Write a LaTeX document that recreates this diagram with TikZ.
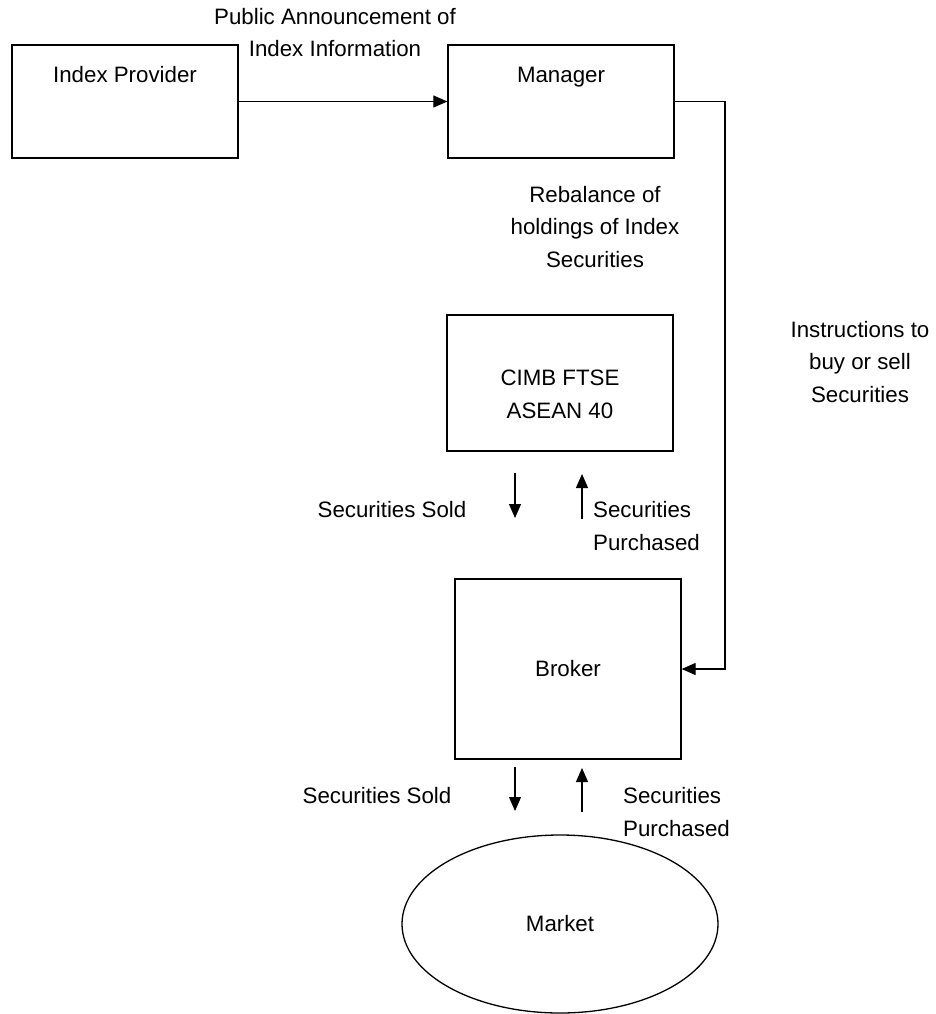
\documentclass[tikz,border=0pt]{standalone}
\usepackage{fontspec}
\setmainfont{Liberation Sans}
\usetikzlibrary{arrows.meta,shapes.geometric}
\begin{document}
\begin{tikzpicture}[x=1pt,y=-1pt,
  every node/.style={font=\fontsize{22.3pt}{32.5pt}\selectfont, inner sep=0pt, align=center},
  box/.style={draw, line width=1.3pt, inner sep=0pt, minimum width=226pt},
  conn/.style={line width=1.1pt, -{Triangle[length=14pt,width=12pt]}},
]
\useasboundingbox (0,0) rectangle (935,1014);
% boxes
\node[box, minimum height=113pt] (ip) at (125,101.5) {};
\node (iptext) at (125,75) {Index Provider};
\node[box, minimum height=113pt] (mgr) at (561,101.5) {};
\node (mgrtext) at (561,77) {Manager};
\node[box, minimum height=136pt] (cimb) at (560,383) {};
\node (cimbtext) at (560,394.5) {CIMB FTSE\\ASEAN 40};
\node[box, minimum height=180pt] (broker) at (568,669) {Broker};
\node[draw, ellipse, line width=1.3pt, minimum width=316pt, minimum height=178pt] (market) at (560,924) {Market};
% main connectors
\draw[conn] (ip) -- (mgr);
\coordinate (bend) at (725,400);
\draw[conn] (mgr.east) -| (bend) |- (broker.east);
% small flow arrows
\coordinate (s1a) at (515,473); \coordinate (s1b) at (515,518);
\draw[conn] (s1a) -- (s1b);
\coordinate (p1a) at (582,519); \coordinate (p1b) at (582,474);
\draw[conn] (p1a) -- (p1b);
\coordinate (s2a) at (515,767); \coordinate (s2b) at (515,811);
\draw[conn] (s2a) -- (s2b);
\coordinate (p2a) at (582,812); \coordinate (p2b) at (582,768);
\draw[conn] (p2a) -- (p2b);
% labels
\node (pub) at (335,32.5) {Public Announcement of\\Index Information};
\node (reb) at (595,227) {Rebalance of\\holdings of Index\\Securities};
\node (instr) at (860,362) {Instructions to\\buy or sell\\Securities};
\node (sold1) at (392,510) {Securities Sold};
\node[anchor=west, align=left] (purch1) at (593,526) {Securities\\Purchased};
\node (sold2) at (377,796) {Securities Sold};
\node[anchor=west, align=left] (purch2) at (623,812) {Securities\\Purchased};
\end{tikzpicture}
\end{document}
